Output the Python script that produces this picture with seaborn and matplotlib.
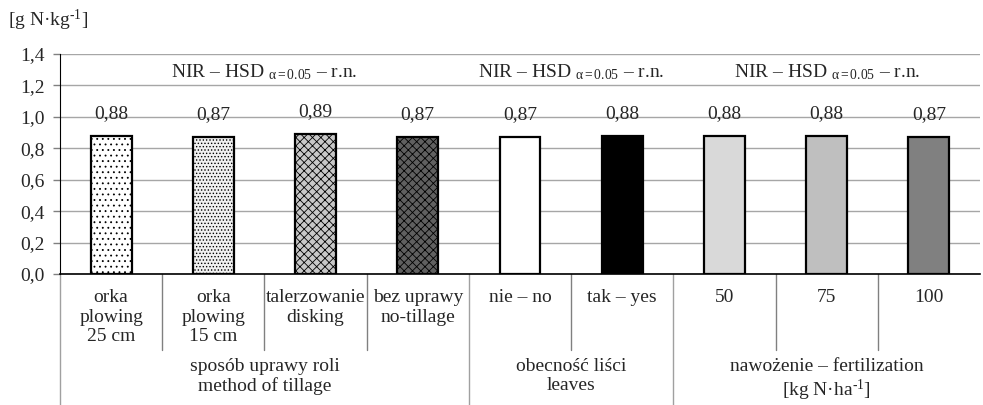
import matplotlib
matplotlib.use("Agg")
import matplotlib.pyplot as plt
import seaborn as sns
from matplotlib.ticker import FuncFormatter

# data
categories = ["orka\nplowing\n25 cm", "orka\nplowing\n15 cm", "talerzowanie\ndisking",
              "bez uprawy\nno-tillage", "nie – no", "tak – yes", "50", "75", "100"]
values = [0.88, 0.87, 0.89, 0.87, 0.87, 0.88, 0.88, 0.88, 0.87]
value_labels = ["0,88", "0,87", "0,89", "0,87", "0,87", "0,88", "0,88", "0,88", "0,87"]
groups = ["sposób uprawy roli\nmethod of tillage", "obecność liści\nleaves",
          "nawożenie – fertilization\n[kg N·ha$^{‐1}$]"]
group_sizes = [4, 2, 3]
nir_text = "NIR – HSD $_{α=0.05}$ – r.n."

bar_colors = ["white", "#f0f0f0", "#c8c8c8", "#606060", "white", "black", "#d9d9d9", "#bfbfbf", "#808080"]
bar_hatches = ["...", ".....", "xxxx", "xxxx", None, None, None, None, None]

sns.set_style("white")
plt.rcParams["font.family"] = ["Liberation Serif", "DejaVu Serif"]
plt.rcParams["mathtext.fontset"] = "custom"
plt.rcParams["mathtext.rm"] = "Liberation Serif"
plt.rcParams["mathtext.it"] = "Liberation Serif:italic"
plt.rcParams["mathtext.default"] = "regular"
plt.rcParams["hatch.linewidth"] = 0.6
plt.rcParams["hatch.color"] = "black"

fs = 14

fig = plt.figure(figsize=(9.83, 4.05), dpi=100)
ax = fig.add_axes([0.061, 0.3235, 0.936, 0.5432])

sns.barplot(x=list(range(len(values))), y=values, hue=list(range(len(values))),
            palette=bar_colors, legend=False, width=0.4, edgecolor="black",
            linewidth=1.6, saturation=1, ax=ax)
for patch, h in zip(ax.patches, bar_hatches):
    if h:
        patch.set_hatch(h)

ax.set_ylim(0, 1.4)
ax.set_xlim(-0.5, len(values) - 0.5)
ax.set_yticks([0, 0.2, 0.4, 0.6, 0.8, 1.0, 1.2, 1.4])
ax.yaxis.set_major_formatter(FuncFormatter(lambda v, p: f"{v:.1f}".replace(".", ",")))
ax.set_xticks(range(len(values)))
ax.set_xticklabels(categories, fontsize=fs, va="top", linespacing=1.2)
ax.tick_params(axis="x", length=0, pad=11)
ax.tick_params(axis="y", length=5, width=1, color="#808080", labelsize=fs, pad=6, left=True)
ax.yaxis.grid(True, color="#a6a6a6", linewidth=1)
ax.set_axisbelow(True)
ax.set_xlabel("")
ax.set_ylabel("")
for s in ["top", "right"]:
    ax.spines[s].set_visible(False)
ax.spines["left"].set_color("black")
ax.spines["bottom"].set_color("black")
ax.spines["bottom"].set_linewidth(1.2)

# value labels
for i, (v, t) in enumerate(zip(values, value_labels)):
    ax.annotate(t, (i, v), xytext=(0, 13), textcoords="offset points",
                ha="center", va="baseline", fontsize=fs)

# separators and group labels under the axis
trans = ax.get_xaxis_transform()
start = 0
for name, n in zip(groups, group_sizes):
    end = start + n
    for k in range(start + 1, end):
        ax.plot([k - 0.5, k - 0.5], [0, -0.345], transform=trans, color="#808080",
                lw=1, clip_on=False)
    if end < len(values):
        ax.plot([end - 0.5, end - 0.5], [0, -0.6], transform=trans, color="#a0a0a0",
                lw=1, clip_on=False)
    center = (start + end - 1) / 2
    ax.text(center, -0.38, name, transform=trans, ha="center", va="top",
            fontsize=fs, linespacing=1.2)
    ax.text(center, 1.25, nir_text, ha="center", va="baseline", fontsize=fs)
    start = end
ax.plot([-0.5, -0.5], [0, -0.6], transform=trans, color="#a0a0a0", lw=1, clip_on=False)

fig.text(0.008, 0.95, "[g N·kg$^{‐1}$]", fontsize=fs, ha="left", va="center")

fig.savefig("out.png", dpi=100)
